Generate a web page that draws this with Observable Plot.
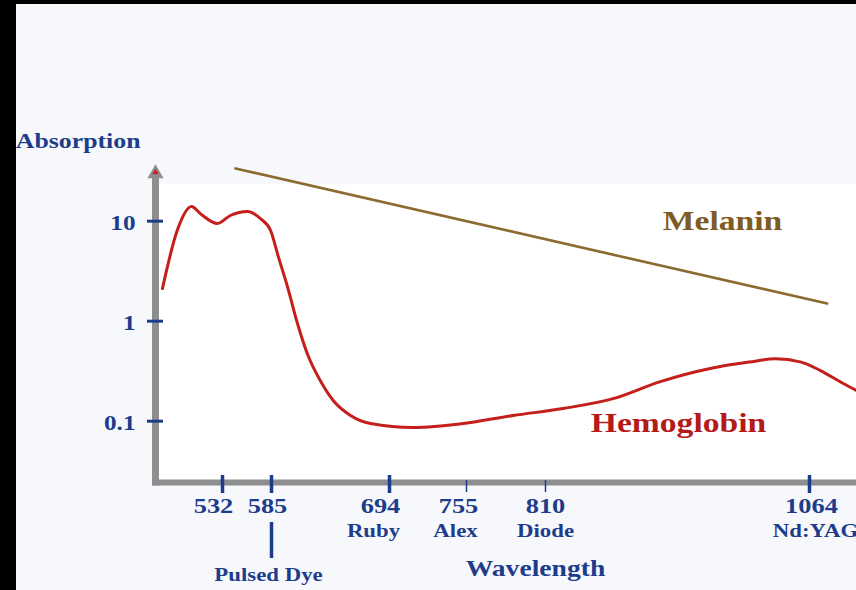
<!DOCTYPE html>
<html><head><meta charset="utf-8">
<script src="https://cdn.jsdelivr.net/npm/d3@7"></script>
<script src="https://cdn.jsdelivr.net/npm/@observablehq/plot@0.6"></script>
<style>
html,body{margin:0;padding:0;background:#f7f8fc;width:856px;height:590px;overflow:hidden;position:relative}
#chart{position:absolute;left:0;top:0}
.edge{position:absolute;background:#000}
</style></head><body>
<div id="chart"></div>
<div class="edge" style="left:0;top:0;width:16px;height:590px"></div>
<div class="edge" style="left:0;top:0;width:856px;height:4px"></div>
<script>
// ---- data ----
const hemoWavelength = [467, 483, 498.5, 508, 526.5, 540.5, 559, 573, 584, 591.5, 600, 609, 618, 630, 642, 658, 676.5, 713, 752.5, 787.5, 827, 875, 920.5, 968.5, 1006, 1031, 1056, 1074.5, 1096.5, 1109];
const hemoAbsorption = [2.12, 8.07, 14.0, 11.9, 9.48, 11.4, 12.5, 10.6, 8.07, 4.34, 2.17, 0.948, 0.475, 0.255, 0.161, 0.114, 0.0948, 0.0865, 0.0948, 0.114, 0.134, 0.168, 0.249, 0.337, 0.39, 0.42, 0.39, 0.321, 0.238, 0.203];
const melaninWavelength = [546, 1081];
const melaninAbsorption = [33.7, 1.5];
const yTickValues = [10, 1, 0.1];
const yTickLabels = ["10", "1", "0.1"];
const xTickValues = [532, 585, 694, 755, 810, 1064];
const xTickLabels = ["532", "585", "694", "755", "810", "1064"];
const laserWavelengths = [694, 755, 810, 1064];
const laserNames = ["Ruby", "Alex", "Diode", "Nd:YAG"];
const dyeWavelength = [585];
const dyeName = ["Pulsed Dye"];
const seriesNames = ["Melanin", "Hemoglobin"];
const axisTitles = ["Absorption", "Wavelength"];

// ---- scales ----
const xMin = 459.5, xMax = 1109.2;           // wavelength extent of the axis
const yMin = 0.02438, yMax = 29.3;           // absorption extent of the axis
const xDomain = [xMin, ...xTickValues, xMax];
const xRange = [155, 222, 271, 389, 466, 545, 809, 856];

const hemo = hemoWavelength.map((w, i) => ({w, a: hemoAbsorption[i]}));
const melanin = melaninWavelength.map((w, i) => ({w, a: melaninAbsorption[i]}));
const xTicks = xTickValues.map((v, i) => ({v, label: xTickLabels[i]}));
const lasers = laserWavelengths.map((v, i) => ({v, name: laserNames[i]}));
const yTicks = yTickValues.map((v, i) => ({v, label: yTickLabels[i]}));

const BLUE = "#1d3d8c", GRAY = "#8e8e8e", RED_LINE = "#c41f1b", RED_TEXT = "#b31a18",
      BROWN_LINE = "#8c6a30", BROWN_TEXT = "#7e5b22";
const font = {fontFamily: "Liberation Serif", fontWeight: "bold"};
const centered = {frameAnchor: "top-left", textAnchor: "middle", lineAnchor: "middle"};

const tickNudge = {532: -9, 585: -4, 694: -9, 755: -8, 810: 0, 1064: 2};
const laserNudge = {694: -16, 755: -11, 810: 0, 1064: 6};
const thinTicks = [755, 810];

const marks = [
  // white plot panel
  Plot.rect([0], {x1: xMin, x2: xMax, y1: yMin, y2: yMax, fill: "white", insetTop: 10}),
  // axes
  Plot.ruleX([xMin], {y1: yMin, y2: yMax, stroke: GRAY, strokeWidth: 7, strokeLinecap: "square"}),
  Plot.ruleY([yMin], {x1: xMin, x2: xMax, stroke: GRAY, strokeWidth: 6, strokeLinecap: "square"}),
  Plot.dot([0], {x: xMin, y: yMax, symbol: "triangle", r: 6, fill: GRAY, dy: -1}),
  Plot.dot([0], {x: xMin, y: yMax, symbol: "triangle", r: 2.4, fill: "#c8202a", dy: -2}),
  // y ticks
  Plot.ruleY(yTicks, {y: "v", x1: xMin, x2: xMin, insetLeft: -8, insetRight: -8, stroke: BLUE, strokeWidth: 3}),
  Plot.text(yTicks, {x: () => xMin, y: "v", text: "label", textAnchor: "end", dx: -20, dy: 2, fontSize: 21, fill: BLUE, ...font}),
  // x ticks
  Plot.ruleX(xTicks, {filter: d => !thinTicks.includes(d.v), x: "v", y1: yMin, y2: yMin, insetTop: -7, insetBottom: -11, stroke: BLUE, strokeWidth: 3.5}),
  Plot.ruleX(xTicks, {filter: d => thinTicks.includes(d.v), x: "v", y1: yMin, y2: yMin, insetTop: -2, insetBottom: -10, stroke: BLUE, strokeWidth: 1.5}),
  ...xTicks.map(t => Plot.text([t], {x: "v", y: () => yMin, text: "label", dx: tickNudge[t.v], dy: 23, fontSize: 22, fill: BLUE, ...font})),
  ...lasers.map(t => Plot.text([t], {x: "v", y: () => yMin, text: "name", dx: laserNudge[t.v], dy: 48, fontSize: 19, fill: BLUE, ...font})),
  Plot.ruleX(dyeWavelength, {y1: yMin, y2: yMin, insetTop: 40, insetBottom: -76, stroke: BLUE, strokeWidth: 3.5}),
  Plot.text(dyeWavelength, {x: d => d, y: () => yMin, text: () => dyeName[0], dx: -3, dy: 92, fontSize: 19, fill: BLUE, ...font}),
  // axis titles
  Plot.text([axisTitles[0]], {x: () => xMin, y: () => yMax, textAnchor: "end", dx: -15, dy: -33, fontSize: 21.5, fill: BLUE, ...font}),
  Plot.text([axisTitles[1]], {...centered, dx: 535, dy: 568, fontSize: 23, fill: BLUE, ...font}),
  // series
  Plot.line(melanin, {x: "w", y: "a", stroke: BROWN_LINE, strokeWidth: 2.6}),
  Plot.line(hemo, {x: "w", y: "a", stroke: RED_LINE, strokeWidth: 3, curve: "monotone-x"}),
  Plot.text([seriesNames[0]], {...centered, dx: 722, dy: 221, fontSize: 28, fill: BROWN_TEXT, ...font}),
  Plot.text([seriesNames[1]], {...centered, dx: 678, dy: 423, fontSize: 28, fill: RED_TEXT, ...font})
];

const svg = Plot.plot({
  width: 856, height: 590,
  marginLeft: 0, marginRight: 0, marginTop: 0, marginBottom: 0,
  x: {type: "linear", domain: xDomain, range: xRange, axis: null},
  y: {type: "log", domain: [yMin, yMax], range: [482, 174], axis: null},
  style: {background: "transparent", overflow: "visible"},
  marks
});
document.getElementById("chart").append(svg);
// the reference lettering is a wide bold serif: stretch the serif glyphs horizontally
svg.querySelectorAll("text").forEach(t => {
  const L = t.getComputedTextLength();
  t.setAttribute("textLength", (L * 1.2).toFixed(1));
  t.setAttribute("lengthAdjust", "spacingAndGlyphs");
});
</script>
</body></html>
